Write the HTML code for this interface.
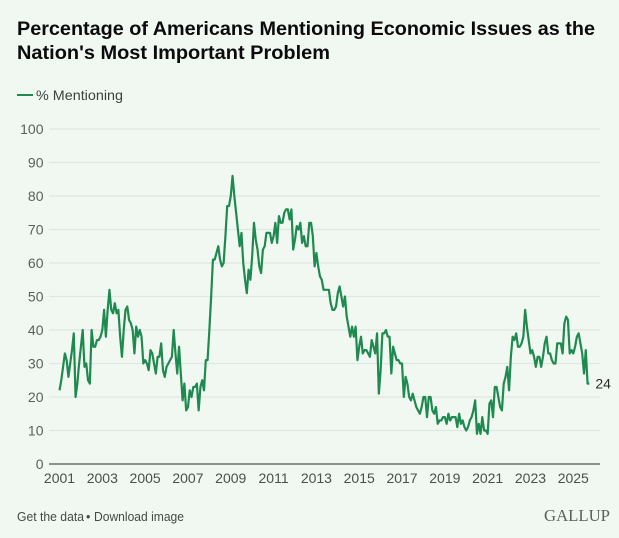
<!DOCTYPE html>
<html lang="en">
<head>
<meta charset="utf-8">
<title>Percentage of Americans Mentioning Economic Issues</title>
<style>
  html,body{margin:0;padding:0;background:#f1f8f2;}
  #chart{display:block;width:619px;height:538px;font-family:"Liberation Sans",sans-serif;}
</style>
</head>
<body>
<svg id="chart" xmlns="http://www.w3.org/2000/svg" width="619" height="538" viewBox="0 0 619 538">
  <rect x="0" y="0" width="619" height="538" fill="#f1f8f2"/>
  <text x="17" y="35" font-size="19.8" font-weight="700" fill="#0b0b0b" textLength="578" lengthAdjust="spacingAndGlyphs">Percentage of Americans Mentioning Economic Issues as the</text>
  <text x="17" y="59" font-size="19.8" font-weight="700" fill="#0b0b0b" textLength="313" lengthAdjust="spacingAndGlyphs">Nation's Most Important Problem</text>
  <line x1="17" x2="33" y1="95" y2="95" stroke="#1f8a4f" stroke-width="2"/>
  <text x="36" y="100" font-size="14" fill="#3c3f3c" textLength="87" lengthAdjust="spacingAndGlyphs">% Mentioning</text>
  <g id="grid"></g>
  <g id="y-labels"></g>
  <g id="x-labels"></g>
  <path id="series" fill="none" stroke="#1f8a4f" stroke-width="2.2" stroke-linejoin="round"/>
  <text id="end-label" font-size="14" fill="#2b2b2b"></text>
  <text x="17" y="521" font-size="12.5" fill="#444a44" textLength="67" lengthAdjust="spacingAndGlyphs">Get the data</text>
  <text x="86" y="521" font-size="12.5" fill="#444a44">•</text>
  <text x="94" y="521" font-size="12.5" fill="#444a44" textLength="90" lengthAdjust="spacingAndGlyphs">Download image</text>
  <text x="544" y="521" font-family="'Liberation Serif',serif" font-size="16.5" fill="#5a5f5a" textLength="66" lengthAdjust="spacingAndGlyphs">GALLUP</text>
</svg>
<script>
const yTicks = [0,10,20,30,40,50,60,70,80,90,100];
const xTickYears = [2001,2003,2005,2007,2009,2011,2013,2015,2017,2019,2021,2023,2025];
const startYear = 2001;
const mentioning = [
  22,25,29,33,31,26,30,34,39,20,24,30,
  35,40,29,30,25,24,40,35,35,37,37,38,
  40,46,38,46,52,46,45,48,45,46,38,32,
  40,46,47,43,42,40,33,41,38,40,38,30,
  31,30,28,34,33,30,27,32,32,36,28,26,
  29,30,31,32,40,33,27,35,27,19,24,16,
  17,22,20,23,23,24,16,23,25,22,31,31,
  40,50,61,61,63,65,61,59,60,68,77,77,
  80,86,80,75,70,65,69,60,55,51,58,55,
  62,72,67,64,59,57,64,65,69,69,69,66,
  68,72,66,74,72,72,75,76,76,73,76,64,
  67,71,70,72,66,68,65,65,72,72,68,59,
  63,59,56,55,52,52,52,52,48,46,46,47,
  51,53,50,47,50,44,41,38,41,38,41,31,
  35,38,33,34,34,33,32,37,35,33,39,21,
  28,39,39,40,38,38,27,35,33,31,31,30,
  30,20,26,24,20,19,21,19,17,16,15,17,
  20,20,14,20,20,16,15,17,12,13,13,14,
  14,12,15,13,14,14,14,11,15,12,13,11,
  10,11,13,14,16,19,9,12,9,14,10,10,
  9,18,19,14,23,23,20,17,16,24,26,29,
  22,32,38,37,39,35,35,36,38,46,41,37,
  33,34,32,29,32,32,29,32,36,38,33,33,
  31,30,30,36,36,36,33,42,44,43,33,34,
  33,35,38,39,36,33,27,34,24,24
];

const NS = 'http://www.w3.org/2000/svg';
const xScale = function (monthIndex) { return 59.5 + monthIndex * 1.784; };
const yScale = function (value) { return 464 - value * 3.35; };

const gridGroup = document.getElementById('grid');
const yLabelGroup = document.getElementById('y-labels');
const xLabelGroup = document.getElementById('x-labels');

yTicks.forEach(function (tick) {
  const line = document.createElementNS(NS, 'line');
  
  
  line.setAttribute('x1', 49);
  line.setAttribute('x2', 600);
  line.setAttribute('y1', yScale(tick));
  line.setAttribute('y2', yScale(tick));
  line.setAttribute('stroke', tick === 0 ? '#8d928d' : '#e0e6e0');
  line.setAttribute('stroke-width', tick === 0 ? 2 : 1.2);
  gridGroup.appendChild(line);

  const label = document.createElementNS(NS, 'text');
  
  
  label.setAttribute('x', 43.5);
  label.setAttribute('y', yScale(tick) + 5);
  label.setAttribute('text-anchor', 'end');
  label.setAttribute('font-size', '14');
  label.setAttribute('fill', '#5a5f5a');
  label.textContent = tick;
  yLabelGroup.appendChild(label);
});

xTickYears.forEach(function (year) {
  const label = document.createElementNS(NS, 'text');
  
  
  label.setAttribute('x', xScale((year - startYear) * 12));
  label.setAttribute('y', 483);
  label.setAttribute('text-anchor', 'middle');
  label.setAttribute('font-size', '14');
  label.setAttribute('fill', '#4a4f4a');
  label.textContent = year;
  xLabelGroup.appendChild(label);
});

const pathParts = mentioning.map(function (value, i) {
  return (i === 0 ? 'M' : 'L') + xScale(i).toFixed(2) + ' ' + yScale(value).toFixed(2);
});
document.getElementById('series').setAttribute('d', pathParts.join(' '));

const lastIndex = mentioning.length - 1;
const endLabel = document.getElementById('end-label');
endLabel.setAttribute('x', xScale(lastIndex) + 6);
endLabel.setAttribute('y', yScale(mentioning[lastIndex]) + 5);
endLabel.textContent = mentioning[lastIndex];
</script>
</body>
</html>
